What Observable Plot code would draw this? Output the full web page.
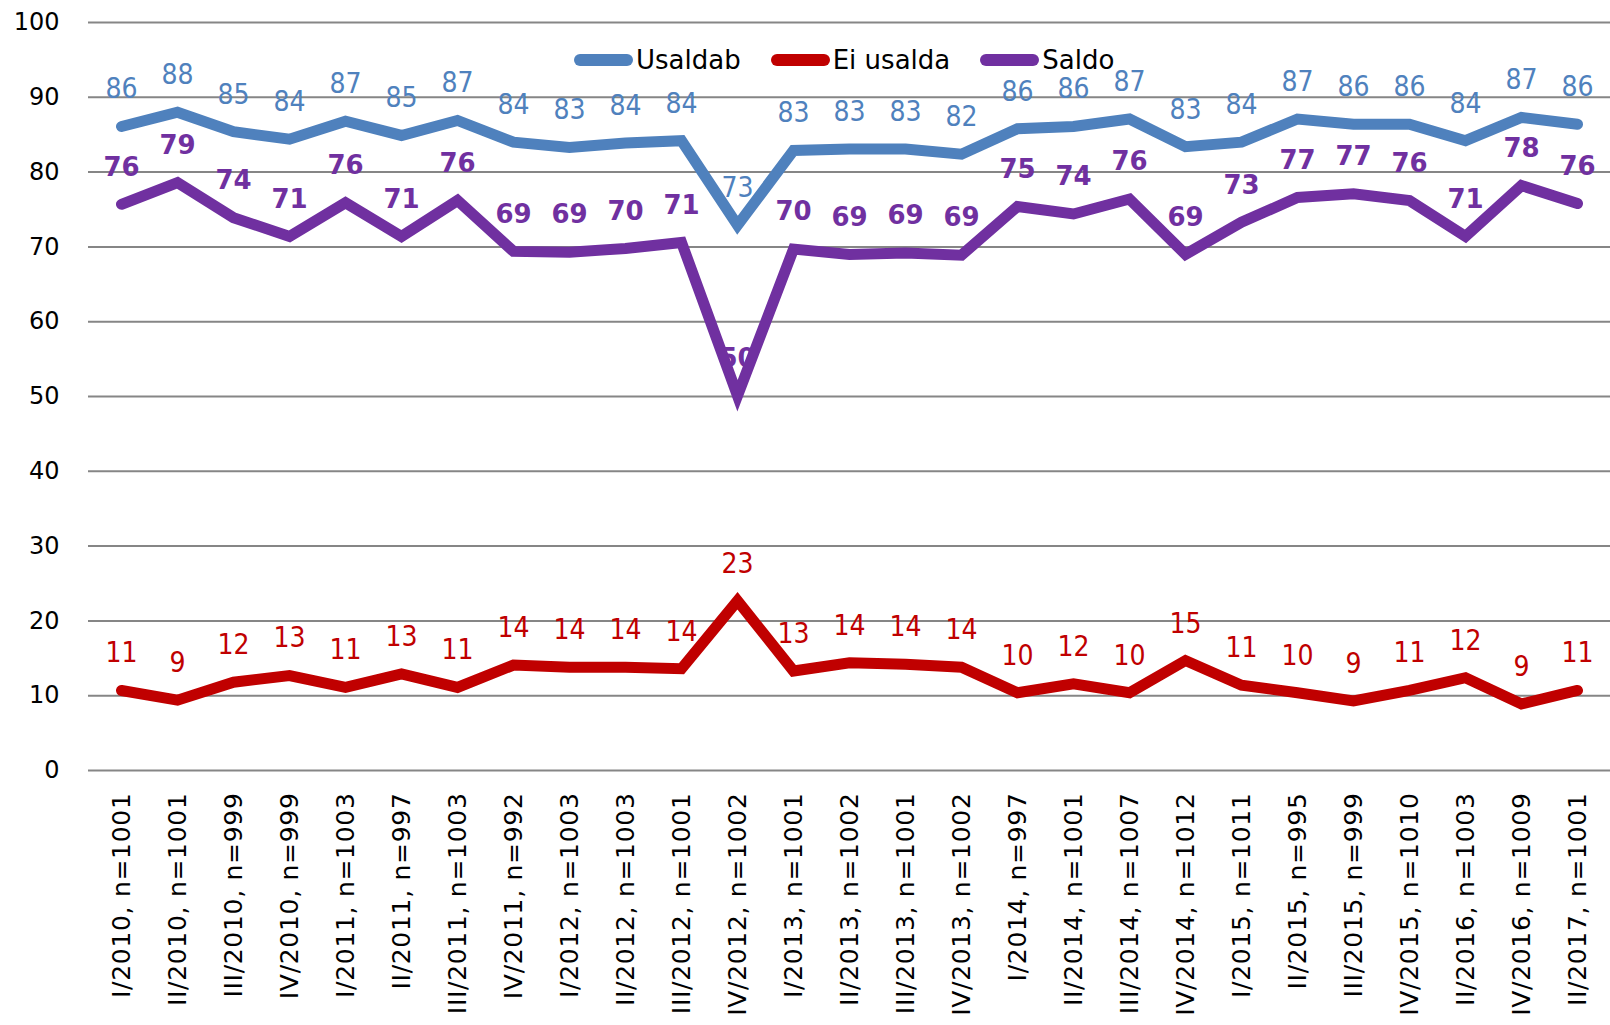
<!DOCTYPE html>
<html>
<head>
<meta charset="utf-8">
<script src="https://cdn.jsdelivr.net/npm/d3@7"></script>
<script src="https://cdn.jsdelivr.net/npm/@observablehq/plot@0.6"></script>
<style>
  html, body { margin: 0; padding: 0; background: #fff; }
  #wrap { position: relative; width: 1610px; height: 1025px; overflow: hidden; }
  #wrap svg text { white-space: pre; }
  #wrap svg g[aria-label="x-axis tick label"] text { letter-spacing: 0.7px; }
  #legend { position: absolute; top: 44px; left: 574px; display: flex; align-items: center;
            font-family: "DejaVu Sans", sans-serif; font-size: 26px; color: #000; line-height: 32px; }
  #legend .item { display: flex; align-items: center; margin-right: 30px; }
  #legend .sw { width: 59px; height: 12px; border-radius: 6px; margin-right: 3px; }
</style>
</head>
<body>
<div id="wrap"></div>
<script>
const periods = [
  "I/2010, n=1001", "II/2010, n=1001", "III/2010, n=999", "IV/2010, n=999",
  "I/2011, n=1003", "II/2011, n=997", "III/2011, n=1003", "IV/2011, n=992",
  "I/2012, n=1003", "II/2012, n=1003", "III/2012, n=1001", "IV/2012, n=1002",
  "I/2013, n=1001", "II/2013, n=1002", "III/2013, n=1001", "IV/2013, n=1002",
  "I/2014, n=997", "II/2014, n=1001", "III/2014, n=1007", "IV/2014, n=1012",
  "I/2015, n=1011", "II/2015, n=995", "III/2015, n=999", "IV/2015, n=1010",
  "II/2016, n=1003", "IV/2016, n=1009", "II/2017, n=1001"
];

const seriesNames = ["Usaldab", "Ei usalda", "Saldo"];
const seriesColors = ["#4F81BD", "#C00000", "#7030A0"];

const usaldab = [86.1, 88.0, 85.4, 84.4, 86.8, 84.9, 86.9, 84.0, 83.3, 83.9, 84.2, 72.9, 82.9, 83.1,
                 83.1, 82.4, 85.8, 86.1, 87.1, 83.4, 84.0, 87.1, 86.4, 86.4, 84.2, 87.3, 86.4];
const usaldabLabels = [86, 88, 85, 84, 87, 85, 87, 84, 83, 84, 84, 73, 83, 83,
                       83, 82, 86, 86, 87, 83, 84, 87, 86, 86, 84, 87, 86];

const eiUsalda = [10.7, 9.4, 11.8, 12.7, 11.1, 12.9, 11.1, 14.1, 13.8, 13.8, 13.6, 22.7, 13.3, 14.4,
                  14.2, 13.8, 10.4, 11.6, 10.4, 14.7, 11.4, 10.4, 9.3, 10.7, 12.4, 8.9, 10.7];
const eiUsaldaLabels = [11, 9, 12, 13, 11, 13, 11, 14, 14, 14, 14, 23, 13, 14,
                        14, 14, 10, 12, 10, 15, 11, 10, 9, 11, 12, 9, 11];

const saldo = [75.7, 78.6, 73.9, 71.4, 75.9, 71.4, 76.2, 69.4, 69.3, 69.8, 70.6, 50.1, 69.7, 69.0,
               69.2, 68.9, 75.4, 74.4, 76.4, 69.0, 73.3, 76.6, 77.1, 76.2, 71.4, 78.2, 75.8];
const saldoLabels = [76, 79, 74, 71, 76, 71, 76, 69, 69, 70, 71, 50, 70, 69,
                     69, 69, 75, 74, 76, 69, 73, 77, 77, 76, 71, 78, 76];

const yTicks = [0, 10, 20, 30, 40, 50, 60, 70, 80, 90, 100];

function rows(values, labels, name) {
  return periods.map((p, i) => ({period: p, value: values[i], label: String(labels[i]), series: name}));
}
const dU = rows(usaldab, usaldabLabels, seriesNames[0]);
const dE = rows(eiUsalda, eiUsaldaLabels, seriesNames[1]);
const dS = rows(saldo, saldoLabels, seriesNames[2]);

const lineOpts = (color) => ({x: "period", y: "value", stroke: color, strokeWidth: 11,
  strokeLinecap: "round", strokeLinejoin: "miter", strokeMiterlimit: 10});

const condensed = "DejaVu Sans Condensed, DejaVu Sans, sans-serif";

const chart = Plot.plot({
  width: 1610,
  height: 1025,
  marginLeft: 88,
  marginRight: 0,
  marginTop: 22,
  marginBottom: 255,
  style: {fontFamily: "DejaVu Sans, sans-serif", background: "#fff", overflow: "visible"},
  x: {type: "point", domain: periods, padding: 0.5},
  y: {domain: [0, 100]},
  marks: [
    Plot.gridY(yTicks, {stroke: "#868686", strokeWidth: 2, strokeOpacity: 1}),
    Plot.axisY(yTicks, {tickSize: 0, tickPadding: 29, fontSize: 24, label: null, fill: "#000"}),
    Plot.axisX({tickRotate: -90, tickSize: 0, tickPadding: 22, fontSize: 25, label: null, fill: "#000"}),
    Plot.line(dU, lineOpts(seriesColors[0])),
    Plot.line(dE, lineOpts(seriesColors[1])),
    Plot.line(dS, lineOpts(seriesColors[2])),
    Plot.text(dU, {x: "period", y: "value", text: "label", dy: -37, fill: seriesColors[0],
      fontSize: 28, fontFamily: condensed, fontStretch: "condensed"}),
    Plot.text(dE, {x: "period", y: "value", text: "label", dy: -37, fill: seriesColors[1],
      fontSize: 28, fontFamily: condensed, fontStretch: "condensed"}),
    Plot.text(dS, {x: "period", y: "value", text: "label", dy: -37, fill: seriesColors[2],
      fontSize: 26, fontWeight: "bold", fontFamily: "DejaVu Sans, sans-serif"})
  ]
});

const wrap = document.getElementById("wrap");
wrap.appendChild(chart);

const legend = document.createElement("div");
legend.id = "legend";
seriesNames.forEach((name, i) => {
  const item = document.createElement("div");
  item.className = "item";
  const sw = document.createElement("div");
  sw.className = "sw";
  sw.style.background = seriesColors[i];
  const t = document.createElement("span");
  t.textContent = name;
  item.appendChild(sw);
  item.appendChild(t);
  legend.appendChild(item);
});
wrap.appendChild(legend);
</script>
</body>
</html>
